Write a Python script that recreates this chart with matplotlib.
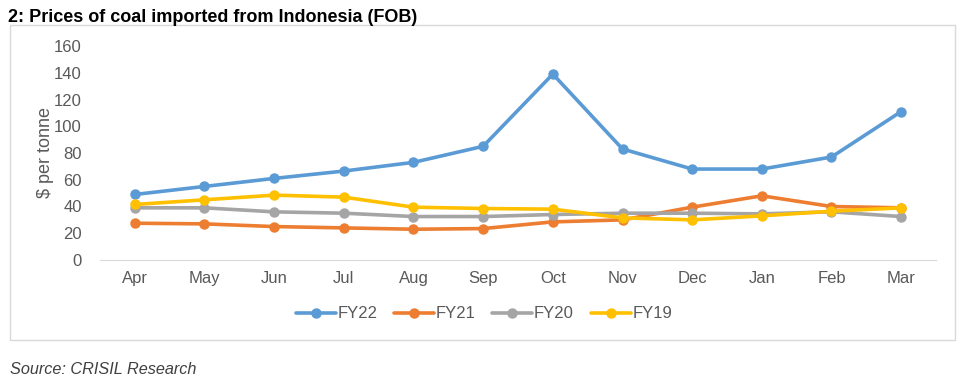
import matplotlib
matplotlib.use("Agg")
import matplotlib.pyplot as plt
from matplotlib.patches import Rectangle

plt.rcParams['font.family'] = ['Liberation Sans', 'DejaVu Sans']

# data
months = ['Apr', 'May', 'Jun', 'Jul', 'Aug', 'Sep', 'Oct', 'Nov', 'Dec', 'Jan', 'Feb', 'Mar']
fy22 = [49, 55, 61, 66.5, 73, 85, 139, 83, 68, 68, 77, 111]
fy21 = [27.5, 27, 25, 24, 23, 23.5, 28.5, 30, 39.5, 48, 40, 39]
fy20 = [39, 39, 36, 35, 32.5, 32.5, 34, 35, 35, 34.5, 36, 32.5]
fy19 = [41.5, 45, 48.5, 47, 39.5, 38.5, 38, 31.5, 30, 33, 36.5, 39]
series = [('FY22', fy22, '#5B9BD5'), ('FY21', fy21, '#ED7D31'),
          ('FY20', fy20, '#A5A5A5'), ('FY19', fy19, '#FFC000')]

W, H = 964, 384
fig = plt.figure(figsize=(W / 100, H / 100), dpi=100)

# outer chart frame
fig.patches.append(Rectangle((10 / W, 1 - 340 / H), 945 / W, 315 / H,
                             transform=fig.transFigure, fill=False,
                             edgecolor='#D9D9D9', linewidth=1))

ax = fig.add_axes([100 / W, 1 - 260 / H, 836 / W, 214 / H])
x = range(len(months))
for name, vals, col in series:
    ax.plot(x, vals, color=col, lw=2.6, marker='o', ms=6.5, label=name,
            solid_capstyle='round')

ax.set_xlim(-0.5, 11.5)
ax.set_ylim(0, 160)
ax.set_yticks(range(0, 161, 20))
ax.set_xticks(list(x))
ax.set_xticklabels(months)
for s in ['top', 'right', 'left']:
    ax.spines[s].set_visible(False)
ax.spines['bottom'].set_color('#D9D9D9')
ax.tick_params(axis='both', length=0, colors='#595959', labelsize=12)
ax.tick_params(axis='x', pad=8)
ax.tick_params(axis='y', pad=13)
ax.set_ylabel('$ per tonne', fontsize=13, color='#595959', labelpad=0)

leg = ax.legend(loc='center', ncol=4, frameon=False, fontsize=12,
                handlelength=2.4, handletextpad=0.1, columnspacing=1.0)
leg.set_bbox_to_anchor((484 / W, 1 - 314 / H), transform=fig.transFigure)
for t in leg.get_texts():
    t.set_color('#595959')

fig.text(8 / W, 1 - 17 / H, '2: Prices of coal imported from Indonesia (FOB)',
         fontsize=13, fontweight='bold', va='center', ha='left')
fig.text(10 / W, 1 - 370 / H, 'Source: CRISIL Research', fontsize=11.7,
         style='italic', color='#404040', va='center', ha='left')

fig.savefig('out.png', dpi=100)
